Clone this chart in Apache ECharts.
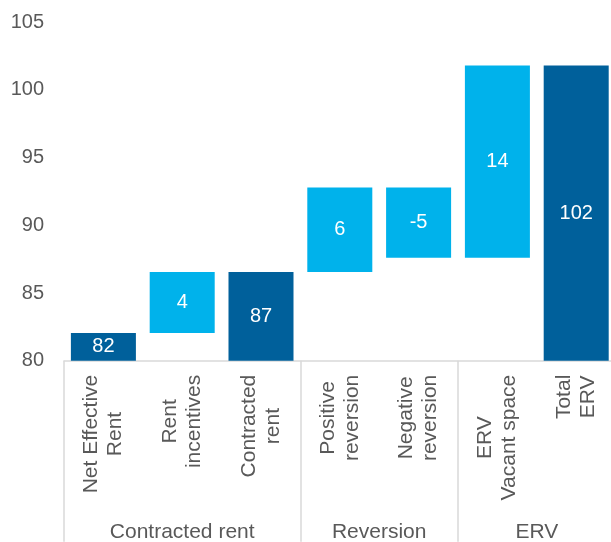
<!DOCTYPE html>
<html>
<head>
<meta charset="utf-8">
<script src="https://cdn.jsdelivr.net/npm/echarts@6/dist/echarts.min.js"></script>
<style>
  html, body { margin: 0; padding: 0; background: #ffffff; }
  #chart { width: 611px; height: 542px; }
</style>
</head>
<body>
<div id="chart"></div>
<script>
// Chart data
const categories = ['Net Effective\nRent', 'Rent\nincentives', 'Contracted\nrent', 'Positive\nreversion', 'Negative\nreversion', 'ERV\nVacant space', 'Total\nERV'];
const barBottom = [80, 82.05, 80, 86.55, 87.6, 87.6, 80];
const barTop = [82.05, 86.55, 86.55, 92.8, 92.8, 101.8, 101.8];
const valueLabels = ['82', '4', '87', '6', '-5', '14', '102'];
const barKind = ['total', 'change', 'total', 'change', 'change', 'change', 'total'];
const groups = ['Contracted rent', 'Reversion', 'ERV'];
const groupSizes = [3, 2, 2];
const yMin = 80;
const yMax = 105;
const yStep = 5;

const darkBlue = '#00609B';
const lightBlue = '#00B2EB';
const textGrey = '#595959';
const lineGrey = '#D9D9D9';
const font = 'Liberation Sans, Arial, sans-serif';

// Group boundaries and centres on a 0..n value scale
let groupEdges = [0];
let groupCenters = [];
groupSizes.forEach(size => {
    let start = groupEdges[groupEdges.length - 1];
    groupCenters.push(start + size / 2);
    groupEdges.push(start + size);
});

// Waterfall: transparent base + visible step
const baseData = barBottom.slice();
const stepData = barTop.map((top, i) => ({
    value: +(top - barBottom[i]).toFixed(3),
    itemStyle: { color: barKind[i] === 'total' ? darkBlue : lightBlue }
}));

const chart = echarts.init(document.getElementById('chart'));
window.addEventListener('resize', function() {
    chart.resize();
});

let option = {
    backgroundColor: '#ffffff',
    animation: false,
    grid: {
        left: 64,
        right: -4.6,
        top: 22.3,
        bottom: 181.3,
        containLabel: false,
        outerBoundsMode: 'none'
    },
    xAxis: [
        {
            type: 'category',
            data: categories,
            position: 'bottom',
            axisLine: { show: true, lineStyle: { color: lineGrey, width: 1.5 } },
            axisTick: { show: false },
            splitLine: { show: false },
            axisLabel: {
                interval: 0,
                rotate: 90,
                margin: 14,
                formatter: function(value) {
                    return value.split('\n').map(s => '{c|' + s + '}').join('\n');
                },
                rich: {
                    c: {
                        align: 'center',
                        fontSize: 21,
                        lineHeight: 24,
                        color: textGrey,
                        fontFamily: font
                    }
                }
            }
        },
        {
            type: 'value',
            min: 0,
            max: categories.length,
            position: 'bottom',
            axisLine: { show: false },
            splitLine: { show: false },
            axisTick: {
                show: true,
                customValues: groupEdges,
                length: 181,
                lineStyle: { color: lineGrey, width: 1.5 }
            },
            axisLabel: {
                customValues: groupCenters,
                margin: 161,
                fontSize: 21,
                color: textGrey,
                fontFamily: font,
                formatter: function(value) {
                    let idx = groupCenters.findIndex(c => Math.abs(c - value) < 1e-6);
                    return idx >= 0 ? groups[idx] : '';
                }
            }
        }
    ],
    yAxis: {
        type: 'value',
        min: yMin,
        max: yMax,
        interval: yStep,
        axisLine: { show: false },
        axisTick: { show: false },
        splitLine: { show: false },
        axisLabel: {
            margin: 20,
            fontSize: 20,
            color: textGrey,
            fontFamily: font
        }
    },
    series: [
        {
            name: 'base',
            type: 'bar',
            stack: 'waterfall',
            xAxisIndex: 0,
            barCategoryGap: '17.5%',
            itemStyle: { color: 'transparent' },
            emphasis: { disabled: true },
            silent: true,
            data: baseData
        },
        {
            name: 'step',
            type: 'bar',
            stack: 'waterfall',
            xAxisIndex: 0,
            barCategoryGap: '17.5%',
            label: {
                show: true,
                position: 'inside',
                color: '#ffffff',
                fontSize: 20,
                fontFamily: font,
                formatter: function(p) {
                    return valueLabels[p.dataIndex];
                }
            },
            data: stepData
        }
    ]
};
chart.setOption(option);
</script>
</body>
</html>
